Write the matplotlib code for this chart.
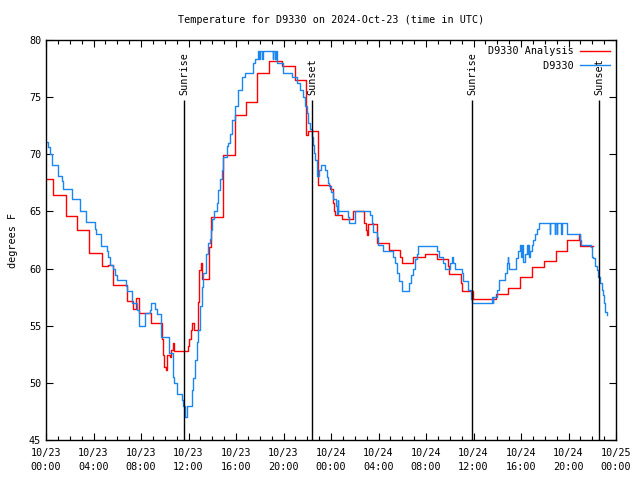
import matplotlib
matplotlib.use("Agg")
import matplotlib.pyplot as plt
from matplotlib.ticker import MultipleLocator

# hours since 10/23 00:00 UTC
obs_hours = [0.0, 0.2, 0.34, 0.51, 0.98, 1.04, 1.38, 1.46, 2.16, 2.84, 3.4, 4.15, 4.24, 4.6,
             5.11, 5.22, 5.36, 5.64, 5.84, 5.98, 6.74, 6.85, 7.21, 7.64, 7.8, 7.86, 8.34, 8.76,
             8.81, 9.21, 9.32, 9.66, 9.71, 10.39, 10.67, 10.78, 11.06, 11.42, 11.56, 11.71, 11.85,
             12.32, 12.41, 12.55, 12.69, 12.83, 12.97, 13.11, 13.25, 13.47, 13.67, 13.81, 13.89,
             14.01, 14.18, 14.37, 14.51, 14.65, 14.79, 14.93, 15.21, 15.35, 15.49, 15.64, 15.92,
             16.2, 16.48, 16.76, 17.4, 17.6, 17.88, 17.95, 18.0, 18.2, 18.25, 19.1, 19.15, 19.3,
             19.35, 19.48, 19.99, 20.69, 21.11, 21.39, 21.67, 21.81, 21.95, 22.09, 22.23, 22.37,
             22.46, 22.57, 22.65, 22.79, 22.85, 23.02, 23.13, 23.5, 23.64, 23.78, 23.86, 23.97,
             24.14, 24.45, 24.5, 24.55, 24.62, 25.46, 25.54, 26.02, 27.28, 27.43, 27.57, 27.85,
             27.99, 28.41, 29.25, 29.39, 29.53, 29.76, 29.95, 30.6, 30.71, 30.88, 31.07, 31.21,
             31.35, 32.95, 33.12, 33.46, 33.6, 34.02, 34.16, 34.3, 34.44, 35.0, 35.14, 35.51,
             35.79, 35.9, 37.53, 37.61, 37.66, 37.95, 38.18, 38.65, 38.79, 38.88, 38.93, 39.02,
             39.58, 39.75, 39.92, 40.0, 40.05, 40.2, 40.34, 40.48, 40.55, 40.62, 40.7, 40.76,
             40.9, 41.04, 41.18, 41.32, 41.52, 42.4, 42.45, 42.85, 42.9, 43.0, 43.05, 43.4,
             43.45, 43.85, 44.97, 45.05, 45.87, 45.95, 46.09, 46.23, 46.37, 46.51, 46.65, 46.79,
             46.93, 47.02, 47.07, 47.2]
obs_temp = [71.1, 70.6, 70.0, 69.1, 68.6, 68.1, 67.7, 67.0, 66.1, 65.0, 64.1, 63.5, 63.0, 62.0,
            61.5, 61.0, 60.3, 60.0, 59.4, 59.0, 58.5, 58.0, 57.0, 56.4, 55.6, 55.0, 56.1, 56.4,
            57.0, 56.5, 56.0, 55.5, 54.0, 52.6, 50.5, 50.0, 49.0, 48.5, 48.0, 47.0, 48.0,
            49.4, 50.4, 52.0, 53.6, 54.6, 56.7, 58.4, 59.6, 61.3, 62.2, 62.6, 63.4,
            64.3, 65.0, 65.7, 66.9, 67.8, 68.6, 69.8, 70.7, 71.0, 71.8, 73.0, 74.2,
            75.6, 76.8, 77.1, 78.0, 78.3, 79.0, 78.3, 79.0, 78.3, 79.0, 78.3, 79.0, 78.3,
            79.0, 78.0, 77.1, 76.8, 76.2, 75.6, 75.0, 74.2, 73.6, 72.7, 72.2, 71.5,
            70.8, 70.1, 69.5, 68.6, 68.1, 68.6, 69.1, 68.6, 68.0, 67.5, 67.2, 66.7,
            66.1, 65.5, 64.8, 66.0, 65.0, 64.5, 64.0, 65.0, 64.7, 64.0, 63.2, 62.8,
            62.1, 61.5, 61.0, 60.5, 59.6, 58.9, 58.0, 58.7, 59.4, 60.0, 60.8, 61.3,
            62.0, 61.5, 61.0, 60.5, 60.0, 60.5, 61.0, 60.5, 60.0, 59.6, 58.9, 58.1,
            57.3, 57.0, 57.5, 57.0, 57.5, 58.1, 59.0, 59.6, 60.5, 61.0, 60.5, 60.0,
            60.9, 61.5, 62.1, 61.0, 62.1, 60.6, 61.3, 62.1, 61.3, 62.1, 61.0, 61.5,
            62.1, 62.5, 63.0, 63.5, 64.0, 63.0, 64.0, 63.0, 64.0, 63.0, 64.0, 63.0,
            64.0, 63.0, 62.5, 62.1, 61.9, 61.0, 60.9, 60.2, 59.9, 59.3, 58.7, 58.1,
            57.7, 57.0, 56.2, 55.9]

ana_hours = [0.0, 0.62, 1.66, 2.64, 3.65, 4.72, 5.25, 5.67, 6.85, 7.35, 7.55, 7.8, 8.84, 9.74,
             9.82, 9.97, 10.1, 10.22, 10.44, 10.53, 10.73, 10.8, 11.93, 12.07, 12.18, 12.27,
             12.49, 12.83, 12.91, 13.05, 13.11, 13.75, 13.87, 14.88, 15.92, 16.84, 17.77, 18.8,
             19.85, 20.97, 21.9, 22.09, 22.93, 23.92, 24.14, 24.25, 24.34, 24.9, 25.83, 26.81,
             26.95, 27.06, 27.14, 27.85, 27.9, 28.86, 29.81, 29.95, 30.88, 31.92, 32.95, 33.88,
             33.97, 34.95, 35.0, 35.93, 36.91, 37.9, 38.9, 39.92, 40.9, 41.91, 42.92, 43.9,
             44.91, 45.0, 46.04]
ana_temp = [67.8, 66.4, 64.6, 63.4, 61.4, 60.2, 60.3, 58.6, 57.2, 56.5, 57.4, 56.1, 55.2, 53.8,
            52.4, 51.4, 51.1, 52.4, 52.3, 52.9, 53.5, 52.8, 53.2, 53.8, 54.6, 55.2,
            54.6, 57.1, 59.9, 60.5, 59.1, 61.9, 64.5, 69.9, 73.4, 74.6, 77.1, 78.2,
            77.7, 76.5, 71.7, 72.0, 67.3, 67.0, 65.7, 65.0, 64.7, 64.3, 65.0, 64.0,
            63.4, 62.9, 63.9, 63.4, 62.2, 61.6, 61.0, 60.5, 61.0, 61.3, 60.8, 60.2,
            59.5, 58.7, 58.0, 57.3, 57.3, 57.8, 58.3, 59.3, 60.1, 60.7, 61.5, 62.5,
            63.0, 62.0, 62.0]

sun_hours = [11.65, 22.43, 35.9, 46.6]
sun_labels = ["Sunrise", "Sunset", "Sunrise", "Sunset"]

tick_hours = list(range(0, 49, 4))
tick_labels = ["10/23\n00:00", "10/23\n04:00", "10/23\n08:00", "10/23\n12:00", "10/23\n16:00",
               "10/23\n20:00", "10/24\n00:00", "10/24\n04:00", "10/24\n08:00", "10/24\n12:00",
               "10/24\n16:00", "10/24\n20:00", "10/25\n00:00"]

plt.rcParams['font.family'] = ['DejaVu Sans Mono']
fs = 7.3

fig = plt.figure(figsize=(6.4, 4.8), dpi=100)
ax = fig.add_axes([46/640, 40/480, 570/640, 400/480])

ax.plot(ana_hours, ana_temp, drawstyle='steps-post', color='#ff0000', lw=1.0,
        label='D9330 Analysis')
ax.plot(obs_hours, obs_temp, drawstyle='steps-post', color='#1a86f0', lw=1.0,
        label='         D9330')

ax.vlines(sun_hours, 45, 74.75, color='black', lw=1)
for h, s in zip(sun_hours, sun_labels):
    ax.text(h, 75.2, s, rotation=90, ha='center', va='bottom', fontsize=fs)

ax.set_xlim(0, 48)
ax.set_ylim(45, 80)
ax.set_xticks(tick_hours)
ax.set_xticklabels(tick_labels, fontsize=fs, linespacing=1.5)
ax.xaxis.set_minor_locator(MultipleLocator(1))
ax.set_yticks(range(45, 81, 5))
ax.tick_params(axis='y', labelsize=fs)
ax.tick_params(which='both', direction='in', top=True, right=True, width=0.8)
ax.tick_params(which='major', length=5)
ax.tick_params(which='minor', length=3)
ax.tick_params(axis='x', pad=6)
for sp in ax.spines.values():
    sp.set_linewidth(1)

ax.set_ylabel('degrees F', fontsize=fs, labelpad=8)
ax.set_title('Temperature for D9330 on 2024-Oct-23 (time in UTC)', fontsize=fs, pad=12)

ax.legend(loc='upper right', frameon=False, markerfirst=False, fontsize=fs,
          handlelength=3.0, handletextpad=0.6, borderaxespad=0.2, labelspacing=0.45,
          bbox_to_anchor=(1.0, 1.0))

fig.savefig('out.png', dpi=100)
